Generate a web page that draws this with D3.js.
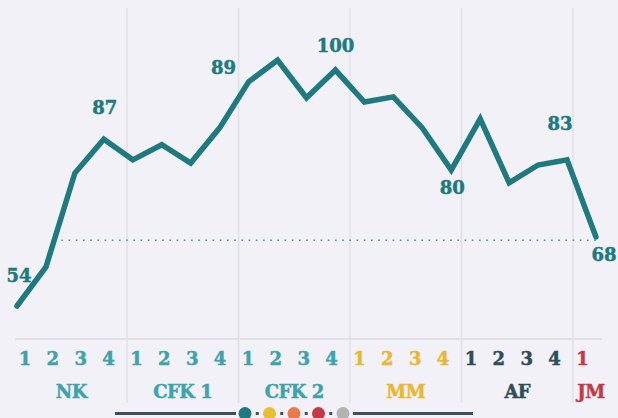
<!DOCTYPE html>
<html>
<head>
<meta charset="utf-8">
<script src="https://cdn.jsdelivr.net/npm/d3@7"></script>
<style>
    body { margin: 0; background: #f2f1f7; }
    #chart text { font-family: "DejaVu Serif", serif; font-weight: bold; stroke-width: 0.5; }
</style>
</head>
<body>
<div id="chart"></div>
<script>
// quarterly values, one per quarter
var values = [54.0, 62.3, 82.3, 89.5, 85.1, 88.3, 84.4, 91.9, 101.7, 106.3, 98.3,
              104.2, 97.4, 98.5, 91.9, 82.9, 93.8, 80.2, 84.0, 85.1, 68.7]
var quarterLabels = ["1", "2", "3", "4", "1", "2", "3", "4", "1", "2", "3", "4",
                     "1", "2", "3", "4", "1", "2", "3", "4", "1"]
var periods = ["NK", "CFK 1", "CFK 2", "MM", "AF", "JM"]
var periodQuarters = [4, 4, 4, 4, 4, 1]
var periodColors = ["#3ea3ac", "#3ea3ac", "#3ea3ac", "#e8b830", "#2f4d58", "#c23a48"]
var labelIndex = [0, 3, 8, 11, 15, 19, 20]
var labelText = ["54", "87", "89", "100", "80", "83", "68"]
var refValue = 68
var legendColors = ["#1f7a80", "#e8bf32", "#e87a4c", "#c23a48", "#b3b3b3"]

// where each annotation sits relative to its point
var labelOffset = [[2, -24], [1, -25], [-25, -8], [0, -18], [1, 24], [-7, -30], [8, 24]]

var width = 618
var height = 418
var lineColor = "#1f7a80"

var svg = d3.select("#chart")
    .append("svg")
    .attr("width", width)
    .attr("height", height)

var x = d3.scalePoint()
    .domain(d3.range(values.length))
    .range([17, 596])

var y = d3.scaleLinear()
    .domain([50, 110])
    .range([324.8, 42.8])

var band = d3.scaleBand()
    .domain(d3.range(quarterLabels.length))
    .range([15.5, 15.5 + quarterLabels.length * 27.875])

// period of each quarter
var quarterPeriod = []
periodQuarters.forEach((n, p) => { for (var k = 0; k < n; k++) quarterPeriod.push(p) })

// group boundaries
var starts = []
var acc = 0
periodQuarters.forEach((n) => { starts.push(acc); acc += n })

svg.append("g").selectAll("line")
    .data(starts.slice(1))
    .enter()
    .append("line")
    .attr("x1", (d) => band(d))
    .attr("x2", (d) => band(d))
    .attr("y1", 8)
    .attr("y2", 403)
    .attr("stroke", "#e1e0e6")
    .attr("stroke-width", 1.5)

svg.append("line")
    .attr("x1", 15)
    .attr("x2", 602)
    .attr("y1", 339)
    .attr("y2", 339)
    .attr("stroke", "#e1e0e6")
    .attr("stroke-width", 2)

// dotted reference line starts where the line first reaches refValue
var startX = x(0)
for (var i = 1; i < values.length; i++) {
    if (values[i - 1] < refValue && values[i] >= refValue) {
        var t = (refValue - values[i - 1]) / (values[i] - values[i - 1])
        startX = x(i - 1) + t * (x(i) - x(i - 1))
        break
    }
}
svg.append("line")
    .attr("x1", startX)
    .attr("x2", 600)
    .attr("y1", y(refValue))
    .attr("y2", y(refValue))
    .attr("stroke", "#3a9aa5")
    .attr("stroke-width", 1.6)
    .attr("stroke-dasharray", "1.6,5.6")

svg.append("path")
    .datum(values)
    .attr("fill", "none")
    .attr("stroke", lineColor)
    .attr("stroke-width", 5.5)
    .attr("stroke-linecap", "round")
    .attr("stroke-linejoin", "miter")
    .attr("d", d3.line().x((d, i) => x(i)).y((d) => y(d)))

svg.append("g").selectAll("text")
    .data(labelIndex)
    .enter()
    .append("text")
    .attr("x", (d, i) => x(d) + labelOffset[i][0])
    .attr("y", (d, i) => y(values[d]) + labelOffset[i][1])
    .attr("text-anchor", "middle")
    .attr("font-size", 18)
    .attr("fill", lineColor)
    .attr("stroke", lineColor)
    .text((d, i) => labelText[i])

// quarter tick labels
svg.append("g").selectAll("text")
    .data(quarterLabels)
    .enter()
    .append("text")
    .attr("x", (d, i) => band(i) + band.bandwidth() / 2 - 4.5)
    .attr("y", 365)
    .attr("text-anchor", "middle")
    .attr("font-size", 18)
    .attr("fill", (d, i) => periodColors[quarterPeriod[i]])
    .attr("stroke", (d, i) => periodColors[quarterPeriod[i]])
    .text((d) => d)

// period names
svg.append("g").selectAll("text")
    .data(periods)
    .enter()
    .append("text")
    .attr("x", (d, p) => {
        var a = band(starts[p])
        var b = band(starts[p] + periodQuarters[p] - 1) + band.bandwidth()
        return (a + b) / 2 + (p === periods.length - 1 ? 4 : 0)
    })
    .attr("y", 398)
    .attr("text-anchor", "middle")
    .attr("font-size", 18)
    .attr("letter-spacing", -0.5)
    .attr("fill", (d, p) => periodColors[p])
    .attr("stroke", (d, p) => periodColors[p])
    .text((d) => d)

// legend strip at the bottom
var legend = svg.append("g")
var ly = 413.5
legend.append("line")
    .attr("x1", 115).attr("x2", 236)
    .attr("y1", ly).attr("y2", ly)
    .attr("stroke", "#3d5257").attr("stroke-width", 3)
legend.append("line")
    .attr("x1", 353).attr("x2", 473)
    .attr("y1", ly).attr("y2", ly)
    .attr("stroke", "#3d5257").attr("stroke-width", 3)

var lx = d3.scalePoint()
    .domain(d3.range(legendColors.length))
    .range([245, 343])

legend.selectAll("rect")
    .data(legendColors.slice(1))
    .enter()
    .append("rect")
    .attr("x", (d, i) => (lx(i) + lx(i + 1)) / 2 - 1.5)
    .attr("y", ly - 1.5)
    .attr("width", 3)
    .attr("height", 3)
    .attr("fill", "#3d5257")

legend.selectAll("circle")
    .data(legendColors)
    .enter()
    .append("circle")
    .attr("cx", (d, i) => lx(i))
    .attr("cy", ly)
    .attr("r", 6.5)
    .attr("fill", (d) => d)
</script>
</body>
</html>
